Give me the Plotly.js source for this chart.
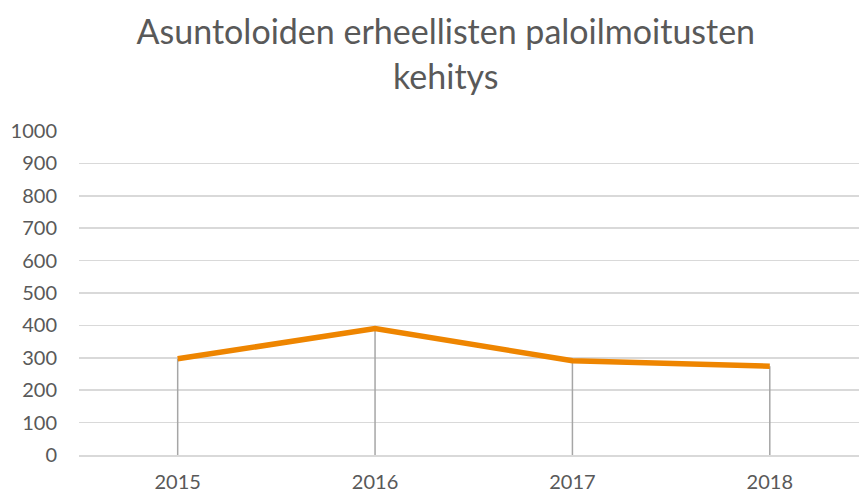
<!DOCTYPE html>
<html>
<head>
<meta charset="utf-8">
<script src="https://cdn.plot.ly/plotly-3.0.1.min.js"></script>
<style>html,body{margin:0;padding:0;background:#fff;}#chart{width:859px;height:493px;}</style>
</head>
<body>
<div id="chart"></div>
<script>
const years = ['2015', '2016', '2017', '2018'];
const values = [297, 390, 291, 274];
const yTicks = [0, 100, 200, 300, 400, 500, 600, 700, 800, 900, 1000];

const dropX = [], dropY = [];
years.forEach((yr, i) => { dropX.push(yr, yr, null); dropY.push(0, values[i], null); });

const traces = [
  {x: dropX, y: dropY, type: 'scatter', mode: 'lines', line: {color: '#a6a6a6', width: 1.5}, hoverinfo: 'skip', showlegend: false},
  {x: years, y: values, type: 'scatter', mode: 'lines', line: {color: '#ee8500', width: 5.5}, showlegend: false}
];

const layout = {
  width: 859, height: 493,
  paper_bgcolor: '#ffffff', plot_bgcolor: '#ffffff',
  margin: {l: 79, r: 0, t: 131, b: 38},
  title: {
    text: 'Asuntoloiden erheellisten paloilmoitusten<br>kehitys',
    font: {family: 'Lato', size: 34, color: '#595959'},
    x: 0.519, xanchor: 'center', y: 0.91, yanchor: 'middle'
  },
  xaxis: {
    type: 'category', range: [-0.5, 3.452],
    showgrid: false, zeroline: false,
    showline: true, linecolor: '#d9d9d9', linewidth: 1.5,
    ticks: '', tickfont: {family: 'Lato', size: 20, color: '#595959'},
    ticklabelstandoff: 8
  },
  yaxis: {
    range: [0, 1000], tickvals: yTicks,
    showgrid: true, gridcolor: '#d9d9d9', gridwidth: 1.5,
    zeroline: false, showline: false, ticks: '',
    tickfont: {family: 'Lato', size: 20, color: '#595959'},
    ticklabelstandoff: 21
  }
};

Plotly.newPlot('chart', traces, layout, {displayModeBar: false, staticPlot: true});
</script>
</body>
</html>
